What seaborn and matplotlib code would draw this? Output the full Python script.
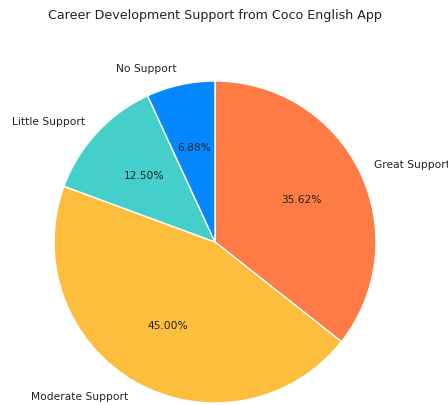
import matplotlib
matplotlib.use("Agg")
import matplotlib.pyplot as plt
import seaborn as sns

# Survey responses: how much career development support the app provides
categories = ["Great Support", "Moderate Support", "Little Support", "No Support"]
counts = [57, 72, 20, 11]
colors = ["#FF7B45", "#FDBE3D", "#45CFCB", "#0588FF"]

sns.set_style("white")
plt.rcParams["font.family"] = ["DejaVu Sans"]

fig = plt.figure(figsize=(4.48, 4.05), dpi=100)
ax = fig.add_axes([54 / 448, 2 / 405, 322 / 448, 322 / 405])

wedges, texts, autotexts = ax.pie(
    counts,
    labels=categories,
    colors=colors,
    autopct="%1.2f%%",
    startangle=90,
    counterclock=False,
    wedgeprops={"edgecolor": "white", "linewidth": 1},
    textprops={"fontsize": 7.7, "color": "#222222"},
    frame=False,
)
ax.set_xlim(-1, 1)
ax.set_ylim(-1, 1)
ax.set_aspect("auto")

fig.text(215 / 448, 1 - 16 / 405, "Career Development Support from Coco English App",
         ha="center", va="center", fontsize=9.1, color="#222222")

fig.savefig("out.png", dpi=100)
